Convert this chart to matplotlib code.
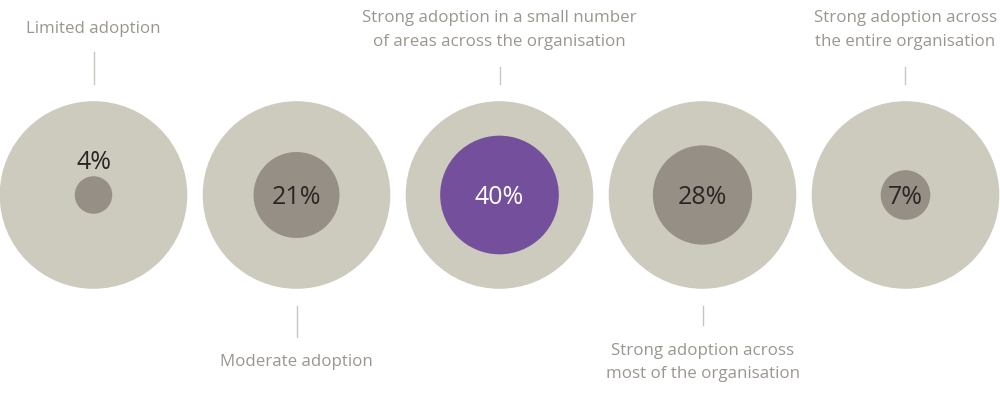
import matplotlib
matplotlib.use("Agg")
import matplotlib.pyplot as plt
from matplotlib.patches import Circle
import numpy as np

categories = [
    "Limited adoption",
    "Moderate adoption",
    "Strong adoption in a small number\nof areas across the organisation",
    "Strong adoption across\nmost of the organisation",
    "Strong adoption across\nthe entire organisation",
]
values = [4, 21, 40, 28, 7]
value_labels = ["4%", "21%", "40%", "28%", "7%"]
label_side = ["top", "bottom", "top", "bottom", "top"]
highlight = [False, False, True, False, False]

OUTER = "#cccbbe"
INNER = "#968f85"
PURPLE = "#74509c"
LABEL = "#9b978f"
DARK = "#2b2624"

plt.rcParams['font.family'] = ['Open Sans', 'DejaVu Sans']

fig = plt.figure(figsize=(10, 4.06), dpi=100)
ax = fig.add_axes([0, 0, 1, 1])
ax.set_xlim(0, 1000)
ax.set_ylim(406, 0)
ax.set_aspect('equal')
ax.axis('off')

k = 9.38  # pixels per sqrt(percent)
cy = 196
x0, dx = 93.5, 203
for i, (cat, v, vl, side, hl) in enumerate(zip(categories, values, value_labels, label_side, highlight)):
    cx = x0 + i * dx
    ax.add_patch(Circle((cx, cy), k * np.sqrt(100), color=OUTER, lw=0))
    r = k * np.sqrt(v)
    ax.add_patch(Circle((cx, cy), r, color=PURPLE if hl else INNER, lw=0))
    if v < 5:
        ax.text(cx, cy - 33, vl, ha='center', va='center', fontsize=18, color=DARK)
    else:
        ax.text(cx, cy + 2, vl, ha='center', va='center', fontsize=18,
                color='white' if hl else DARK)
    nlines = cat.count("\n") + 1
    if side == "top":
        if nlines == 1:
            ax.plot([cx, cx], [53, 85], color="#c8c6bf", lw=1)
            ax.text(cx, 29, cat, ha='center', va='center', fontsize=12.2, color=LABEL)
        else:
            ax.plot([cx, cx], [68, 85], color="#c8c6bf", lw=1)
            ax.text(cx, 30, cat, ha='center', va='center', fontsize=12.2, color=LABEL,
                    linespacing=1.65)
    else:
        if nlines == 1:
            ax.plot([cx, cx], [307, 338], color="#c8c6bf", lw=1)
            ax.text(cx, 362, cat, ha='center', va='center', fontsize=12.2, color=LABEL)
        else:
            ax.plot([cx, cx], [307, 326], color="#c8c6bf", lw=1)
            ax.text(cx, 362.5, cat, ha='center', va='center', fontsize=12.2, color=LABEL,
                    linespacing=1.65)

fig.savefig("out.png", dpi=100)
